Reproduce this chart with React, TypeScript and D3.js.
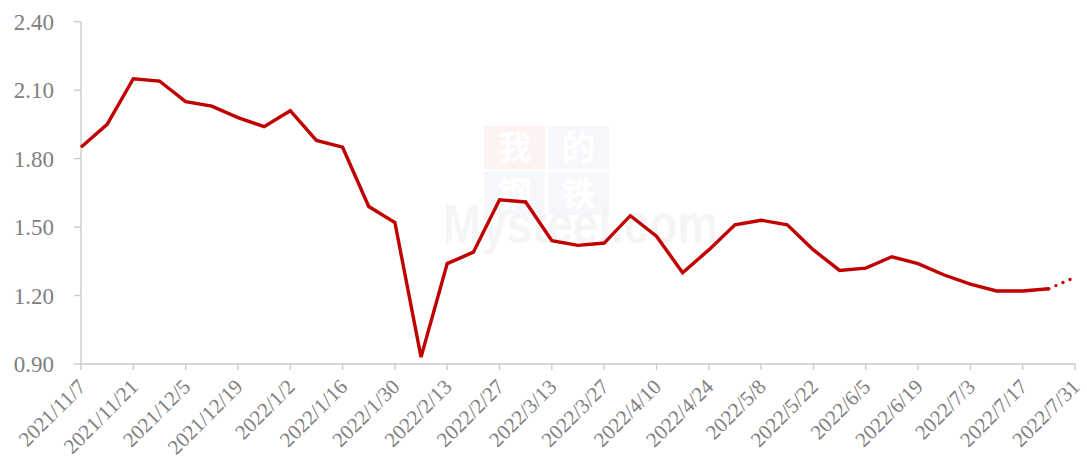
import * as React from 'react';
import * as d3 from 'd3';

// weekly dates, one per point
const dates = [
  '2021/11/7', '2021/11/14', '2021/11/21', '2021/11/28', '2021/12/5', '2021/12/12', '2021/12/19', '2021/12/26',
  '2022/1/2', '2022/1/9', '2022/1/16', '2022/1/23', '2022/1/30', '2022/2/6', '2022/2/13', '2022/2/20',
  '2022/2/27', '2022/3/6', '2022/3/13', '2022/3/20', '2022/3/27', '2022/4/3', '2022/4/10', '2022/4/17',
  '2022/4/24', '2022/5/1', '2022/5/8', '2022/5/15', '2022/5/22', '2022/5/29', '2022/6/5', '2022/6/12',
  '2022/6/19', '2022/6/26', '2022/7/3', '2022/7/10', '2022/7/17', '2022/7/24', '2022/7/31',
];

// actual values (solid) and the last forecast point (dotted)
const actual = [
  1.85, 1.95, 2.15, 2.14, 2.05, 2.03, 1.98, 1.94, 2.01, 1.88, 1.85, 1.59, 1.52, 0.93, 1.34, 1.39,
  1.62, 1.61, 1.44, 1.42, 1.43, 1.55, 1.46, 1.30, 1.40, 1.51, 1.53, 1.51, 1.40, 1.31, 1.32, 1.37,
  1.34, 1.29, 1.25, 1.22, 1.22, 1.23,
];
const forecast = [1.28];

const yTicks = [0.9, 1.2, 1.5, 1.8, 2.1, 2.4];

const width = 1087;
const height = 471;

const App = () => {
  const x = d3.scaleLinear().domain([0, dates.length - 1]).range([81, 1075]);
  const y = d3.scaleLinear().domain([0.9, 2.4]).range([364, 21.7]);

  const solidPts = actual.map((v, i) => [x(i), y(v)] as [number, number]);
  const dotPts = [actual.length - 1, actual.length].map((i) => {
    const v = i < actual.length ? actual[i] : forecast[i - actual.length];
    return [x(i), y(v)] as [number, number];
  });
  const line = d3.line();

  const labelIdx = dates.map((d, i) => i).filter((i) => i % 2 === 0);

  return (
    <svg width={width} height={height} style={{position: 'absolute', left: 0, top: 0, background: '#fff'}}>
      {/* watermark */}
      <g>
        <rect x={484} y={126} width={61} height={43} fill="#fdf3f3" />
        <rect x={547.7} y={126} width={61.3} height={43} fill="#f6f7fb" />
        <rect x={484} y={172} width={61} height={43} fill="#f6f7fb" />
        <rect x={547.7} y={172} width={61.3} height={43} fill="#f6f7fb" />
        {['我', '的', '钢', '铁'].map((c, i) => (
          <text key={c} x={i % 2 === 0 ? 514.5 : 578.3} y={i < 2 ? 160 : 206} textAnchor="middle"
            fontFamily="Noto Sans CJK SC" fontWeight="bold" fontSize={34} fill="#fff">{c}</text>
        ))}
        <text x={443} y={243} fontFamily="Liberation Sans" fontWeight="bold" fontSize={56} fill="#f5f5f5"
          textLength={275} lengthAdjust="spacingAndGlyphs">Mysteel.com</text>
      </g>

      {/* y axis */}
      <line x1={81} x2={81} y1={y(2.4)} y2={y(0.9)} stroke="#c8c8c8" strokeWidth={1.3} />
      {yTicks.map((t) => (
        <g key={t}>
          <line x1={74} x2={81} y1={y(t)} y2={y(t)} stroke="#c8c8c8" strokeWidth={1.3} />
          <text x={54} y={y(t)} dy="0.35em" textAnchor="end" fontFamily="Liberation Serif" fontSize={23} fill="#808080">
            {t.toFixed(2)}
          </text>
        </g>
      ))}

      {/* x axis */}
      <line x1={81} x2={1075} y1={364} y2={364} stroke="#c8c8c8" strokeWidth={1.3} />
      {labelIdx.map((i) => (
        <g key={i}>
          <line x1={x(i)} x2={x(i)} y1={364} y2={370} stroke="#c8c8c8" strokeWidth={1.3} />
          <text transform={`translate(${x(i) + 6},${388}) rotate(-45)`} textAnchor="end"
            fontFamily="Liberation Serif" fontSize={21} fill="#808080">{dates[i]}</text>
        </g>
      ))}

      {/* series */}
      <path d={line(solidPts)!} fill="none" stroke="#c00000" strokeWidth={3.4} strokeLinejoin="miter" />
      <path d={line(dotPts)!} fill="none" stroke="#c00000" strokeWidth={3.4} strokeLinecap="round"
        strokeDasharray="0 7.7" strokeDashoffset={-7.7} />
    </svg>
  );
};

export default App;
